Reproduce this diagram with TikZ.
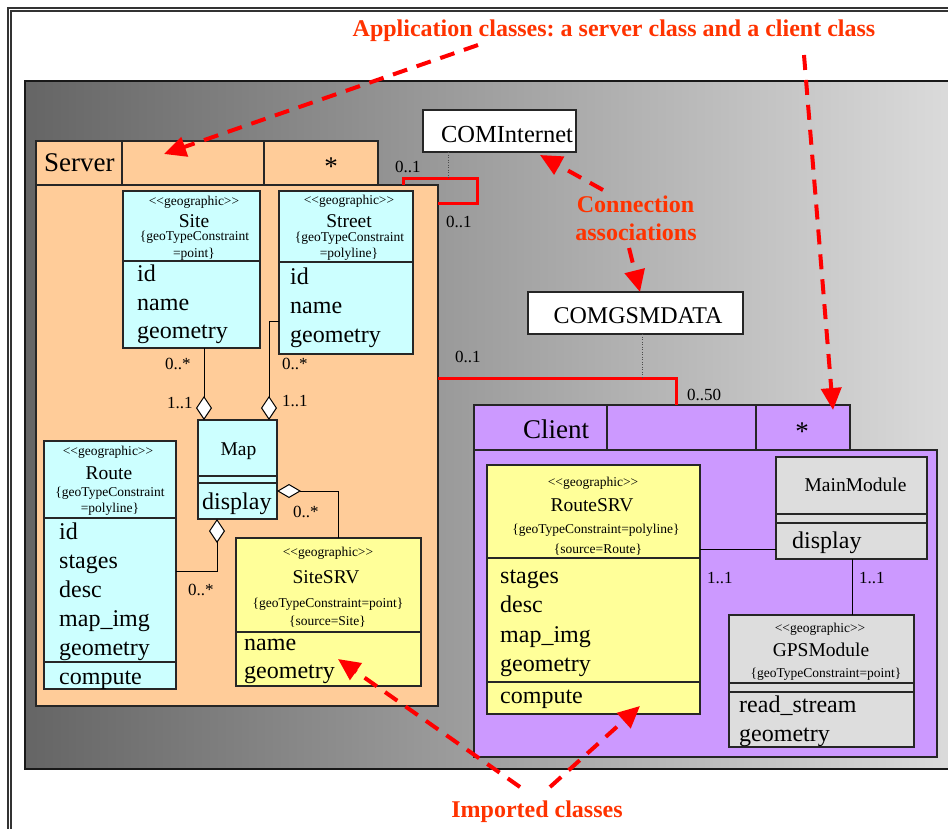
\documentclass[tikz,border=0pt]{standalone}
\usepackage{fontspec}
\setmainfont{Liberation Serif}
\usetikzlibrary{arrows.meta}
\definecolor{peach}{HTML}{FFCC99}
\definecolor{cyanbox}{HTML}{CCFFFF}
\definecolor{yellowbox}{HTML}{FFFF99}
\definecolor{purplebox}{HTML}{CC99FF}
\definecolor{graybox}{HTML}{DDDDDD}
\definecolor{redtext}{HTML}{FF3300}
\definecolor{redline}{HTML}{FF0000}
\definecolor{paneldark}{HTML}{656565}
\definecolor{panellight}{HTML}{DCDCDC}
\newcommand{\klass}[6]{\node[box, fill=#6, minimum width={(#4)-(#2)}, minimum height={(#5)-(#3)}] (#1) at (#2,#3) {};}
\newcommand{\hsep}[3]{\draw[sepline] (#1,#3) -- (#2,#3);}
\newcommand{\vsep}[3]{\draw[sepline] (#1,#2) -- (#1,#3);}
\newcommand{\geostereo}{<{}<geographic>{}>}
\tikzset{
 box/.style={draw=black!85, line width=1.1pt, anchor=north west, inner sep=0pt, outer sep=0pt},
 sepline/.style={draw=black!85, line width=1.1pt},
 stereo/.style={font=\fontsize{13.5}{15}\selectfont, inner sep=0pt, anchor=base},
 cname/.style={font=\fontsize{19.5}{22}\selectfont, inner sep=0pt, anchor=base},
 attr/.style={font=\fontsize{24}{26}\selectfont, inner sep=0pt, anchor=base west},
 mult/.style={font=\fontsize{17}{19}\selectfont, inner sep=0pt, anchor=base west},
 big/.style={font=\fontsize{27}{30}\selectfont, inner sep=0pt, anchor=base},
 note/.style={font=\frenchspacing\bfseries\fontsize{24}{28}\selectfont, text=redtext, inner sep=0pt, anchor=base},
 assoc/.style={draw=black, line width=1pt},
 agg/.style={draw=black, line width=1pt, -{Diamond[length=24pt, width=16pt, fill=white]}},
 aggh/.style={draw=black, line width=1pt, -{Diamond[length=24pt, width=14pt, fill=white]}},
 redconn/.style={draw=redline, line width=3pt},
 dotline/.style={draw=black!70, line width=0.7pt, dash pattern=on 1pt off 1.5pt},
 redarrow/.style={draw=redline, line width=4pt, dash pattern=on 15pt off 10pt, -{Triangle[length=22pt, width=20pt]}},
}
\begin{document}
\begin{tikzpicture}[x=1pt, y=-1pt]
\useasboundingbox (0,0) rectangle (948,828);
\clip (0,0) rectangle (948,828);
\fill[white] (0,0) rectangle (948,828);
% outer double frame
\draw[line width=2pt, black!80] (7.5,7.5) rectangle (1000,900);
\draw[line width=1.3pt, black!80] (11,11) rectangle (996,896);
% gray panel
\shade[left color=paneldark, right color=panellight] (25,81) rectangle (960,769);
\draw[line width=1.3pt, black!90] (25,81) rectangle (960,769);

% ---------- Server ----------
\klass{srvbody}{36}{185}{438}{706}{peach}
\klass{srvhead}{36}{141}{378}{185}{peach}
\vsep{122}{141}{185}
\vsep{264}{141}{185}
\node[big, anchor=base west] (srvname) at (44,171) {Server};
\node[big] (srvstar) at (331,175) {*};

% Site
\klass{site}{123}{191}{260}{348}{cyanbox}
\hsep{123}{260}{261}
\node[stereo] (site-st) at (194,205) {\geostereo};
\node[cname] (site-nm) at (194,227) {Site};
\node[stereo] (site-c1) at (194.5,240) {\{geoTypeConstraint};
\node[stereo] (site-c2) at (194,257) {=point\}};
\node[attr] (site-a1) at (137,281) {id};
\node[attr] (site-a2) at (137,310) {name};
\node[attr] (site-a3) at (137,338) {geometry};

% Street
\klass{street}{279}{191}{413}{354}{cyanbox}
\hsep{279}{413}{262}
\node[stereo] (str-st) at (349,204) {\geostereo};
\node[cname] (str-nm) at (349,227) {Street};
\node[stereo] (str-c1) at (349.5,241) {\{geoTypeConstraint};
\node[stereo] (str-c2) at (349,257) {=polyline\}};
\node[attr] (str-a1) at (290,284) {id};
\node[attr] (str-a2) at (290,313) {name};
\node[attr] (str-a3) at (290,342) {geometry};

% Map
\klass{map}{198}{420}{277}{519}{cyanbox}
\hsep{198}{277}{476}
\hsep{198}{277}{483}
\node[cname] (map-nm) at (238.5,455) {Map};
\node[attr] (map-op) at (202,509) {display};

% Route
\klass{route}{44}{441}{176}{689}{cyanbox}
\hsep{44}{176}{518}
\hsep{44}{176}{662}
\node[stereo] (rt-st) at (108,455) {\geostereo};
\node[cname] (rt-nm) at (109,479) {Route};
\node[stereo] (rt-c1) at (110,496) {\{geoTypeConstraint};
\node[stereo] (rt-c2) at (110,512) {=polyline\}};
\node[attr] (rt-a1) at (59,539) {id};
\node[attr] (rt-a2) at (59,568) {stages};
\node[attr] (rt-a3) at (59,597) {desc};
\node[attr] (rt-a4) at (59,626) {map\_img};
\node[attr] (rt-a5) at (59,655) {geometry};
\node[attr] (rt-o1) at (59,684) {compute};

% SiteSRV
\klass{sitesrv}{236}{538}{421}{686}{yellowbox}
\hsep{236}{421}{632}
\node[stereo] (ss-st) at (328,556) {\geostereo};
\node[cname] (ss-nm) at (326,583) {SiteSRV};
\node[stereo] (ss-c1) at (328,607) {\{geoTypeConstraint=point\}};
\node[stereo] (ss-c2) at (327.5,625) {\{source=Site\}};
\node[attr] (ss-a1) at (244,650) {name};
\node[attr] (ss-a2) at (244,678) {geometry};

% Server-side connectors
\coordinate (smj) at (204,420);
\draw[agg] (smj |- site.south) -- (smj);
\coordinate (stj) at (269,321);
\draw[agg] (stj -| street.west) -- (stj) -- (stj |- map.north);
\coordinate (ssj) at (338,491);
\draw[aggh] (ssj |- sitesrv.north) -- (ssj) -- (ssj -| map.east);
\coordinate (rtj) at (217,571);
\draw[agg] (rtj -| route.east) -- (rtj) -- (rtj |- map.south);

\node[mult] (m1) at (165,369) {0..*};
\node[mult] (m2) at (167,408) {1..1};
\node[mult] (m3) at (282,369) {0..*};
\node[mult] (m4) at (282,406) {1..1};
\node[mult] (m5) at (293,517) {0..*};
\node[mult] (m6) at (188,595) {0..*};

% ---------- COM classes ----------
\node[box, fill=white, minimum width=153, minimum height=42] (comi) at (423,110) {};
\node[font=\fontsize{24.5}{27}\selectfont, inner sep=0pt, anchor=base] (comi-t) at (507,142) {COMInternet};
\node[box, fill=white, minimum width=215, minimum height=42] (comg) at (528,292) {};
\node[font=\fontsize{24}{27}\selectfont, inner sep=0pt, anchor=base] (comg-t) at (638,323) {COMGSMDATA};

% ---------- Client ----------
\klass{clbody}{474}{450}{937}{757}{purplebox}
\klass{clhead}{474}{405}{850}{450}{purplebox}
\vsep{607}{405}{450}
\vsep{756}{405}{450}
\node[big] (clname) at (556,438) {Client};
\node[big] (clstar) at (802,440) {*};

% RouteSRV
\klass{routesrv}{487}{465}{700}{714}{yellowbox}
\hsep{487}{700}{558}
\hsep{487}{700}{682}
\node[stereo] (rs-st) at (593,486) {\geostereo};
\node[cname] (rs-nm) at (592,511) {RouteSRV};
\node[stereo] (rs-c1) at (596,533) {\{geoTypeConstraint=polyline\}};
\node[stereo] (rs-c2) at (598,553) {\{source=Route\}};
\node[attr] (rs-a1) at (500,583) {stages};
\node[attr] (rs-a2) at (500,612) {desc};
\node[attr] (rs-a3) at (500,642) {map\_img};
\node[attr] (rs-a4) at (500,671) {geometry};
\node[attr] (rs-o1) at (500,703) {compute};

% MainModule
\klass{mainmod}{776}{457}{927}{559}{graybox}
\hsep{776}{927}{514}
\hsep{776}{927}{523}
\node[cname] (mm-nm) at (855.5,491) {MainModule};
\node[attr] (mm-op) at (792,548) {display};

% GPSModule
\klass{gps}{729}{615}{914}{747}{graybox}
\hsep{729}{914}{683}
\hsep{729}{914}{692}
\node[stereo] (gp-st) at (820,632) {\geostereo};
\node[cname] (gp-nm) at (821,656) {GPSModule};
\node[stereo] (gp-c1) at (826,677) {\{geoTypeConstraint=point\}};
\node[attr] (gp-a1) at (739,712) {read\_stream};
\node[attr] (gp-a2) at (739,741) {geometry};

% Client connectors
\coordinate (rmj) at (738,549);
\draw[assoc] (rmj -| routesrv.east) -- (rmj -| mainmod.west);
\coordinate (gpj) at (852,590);
\draw[assoc] (gpj |- mainmod.south) -- (gpj |- gps.north);
\node[mult] (m7) at (707,583) {1..1};
\node[mult] (m8) at (859,583) {1..1};

% ---------- red associations ----------
\coordinate (sa) at (403,178);
\coordinate (sb) at (477,203);
\draw[redconn] (sa |- srvbody.north) -- (sa) -| (sb) -- (sb -| srvbody.east);
\coordinate (cc) at (676,378);
\draw[redconn] (cc -| srvbody.east) -- (cc) -- (cc |- clhead.north);
\coordinate (di) at (448,178);
\draw[dotline] (di |- comi.south) -- (di);
\coordinate (dg) at (642,377);
\draw[dotline] (dg |- comg.south) -- (dg);
\node[mult] (m9) at (395,172) {0..1};
\node[mult] (m10) at (446,227) {0..1};
\node[mult] (m11) at (455,362) {0..1};
\node[mult] (m12) at (687,400) {0..50};

% ---------- annotations ----------
\node[note] (n1) at (614,36) {Application classes: a server class and a client class};
\node[note] (n2a) at (635.5,212) {Connection};
\node[note] (n2b) at (636,240) {associations};
\node[note] (n3) at (537,817) {Imported classes};

\coordinate (a1s) at (478,45);
\coordinate (a1e) at (164,154);
\coordinate (a2s) at (804,55);
\coordinate (a2e) at (833,410);
\coordinate (a3s) at (603,190);
\coordinate (a3e) at (540,155);
\coordinate (a4s) at (629,248);
\coordinate (a4e) at (640,292);
\coordinate (a5s) at (520,787);
\coordinate (a5e) at (338,659);
\coordinate (a6s) at (550,787);
\coordinate (a6e) at (640,706);
\draw[redarrow] (a1s) -- (a1e);
\draw[redarrow] (a2s) -- (a2e);
\draw[redarrow] (a3s) -- (a3e);
\draw[redarrow] (a4s) -- (a4e);
\draw[redarrow] (a5s) -- (a5e);
\draw[redarrow] (a6s) -- (a6e);
\end{tikzpicture}
\end{document}
